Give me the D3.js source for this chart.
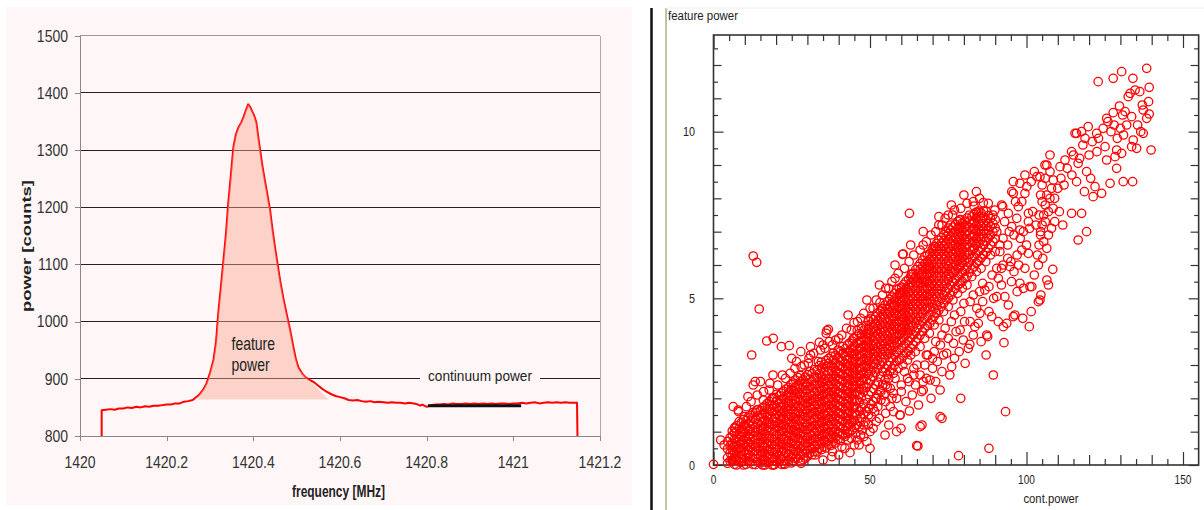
<!DOCTYPE html>
<html><head><meta charset="utf-8">
<script src="https://cdn.jsdelivr.net/npm/d3@7"></script>
<style>body{margin:0;background:#fff}svg{display:block}</style>
</head><body><svg id="c" width="1204" height="510"></svg>
<script>
// ---------- LEFT: spectrum ----------
const specFreq = [1420.05,1420.05,1420.06,1420.07,1420.08,1420.09,1420.10,1420.11,1420.12,1420.13,1420.14,1420.15,1420.16,1420.17,1420.18,1420.19,1420.20,1420.21,1420.22,1420.23,1420.24,1420.25,1420.26,1420.265,1420.275,1420.285,1420.292,1420.30,1420.308,1420.314,1420.319,1420.325,1420.331,1420.337,1420.342,1420.348,1420.354,1420.36,1420.366,1420.372,1420.377,1420.383,1420.388,1420.393,1420.397,1420.402,1420.407,1420.411,1420.416,1420.421,1420.427,1420.433,1420.439,1420.444,1420.45,1420.456,1420.462,1420.469,1420.477,1420.485,1420.492,1420.498,1420.504,1420.512,1420.52,1420.53,1420.54,1420.55,1420.56,1420.57,1420.58,1420.59,1420.60,1420.61,1420.62,1420.63,1420.64,1420.65,1420.66,1420.67,1420.68,1420.69,1420.70,1420.71,1420.72,1420.73,1420.74,1420.75,1420.76,1420.77,1420.78,1420.785,1420.79,1420.80,1420.81,1420.82,1420.83,1420.84,1420.85,1420.86,1420.87,1420.88,1420.89,1420.90,1420.91,1420.92,1420.93,1420.94,1420.95,1420.96,1420.97,1420.98,1420.99,1421.00,1421.01,1421.02,1421.03,1421.04,1421.05,1421.06,1421.07,1421.08,1421.09,1421.10,1421.11,1421.12,1421.13,1421.14,1421.147,1421.148];
const specPower = [800,845,846,847,846,848,848,850,849,851,850,852,851,853,853,854,855,855,857,857,860,861,863,866,872,882,892,910,933,965,1014,1060,1107,1155,1206,1255,1305,1328,1340,1348,1357,1370,1380,1375,1368,1360,1348,1325,1298,1272,1245,1220,1193,1162,1130,1100,1071,1042,1013,985,957,935,920,910,903,898,894,888,882,877,873,870,868,866,863,862,863,861,860,861,859,860,859,858,859,858,858,857,858,857,855,853,855,851,854,855,855,856,855,857,856,856,857,856,857,856,857,856,857,856,857,857,856,857,857,858,857,858,859,857,858,859,858,859,858,859,858,858,858,800];
const yTicksL = [800,900,1000,1100,1200,1300,1400,1500];
const xTicksL = [1420,1420.2,1420.4,1420.6,1420.8,1421,1421.2];
const xTickLabelsL = ["1420","1420.2","1420.4","1420.6","1420.8","1421","1421.2"];
const contBarFreq = [1420.803,1421.018];
const contBarPower = [853,853];
const fillRange = [1420.272,1420.515];
const fillEndFreq = 1420.573;
const fillBase = 864;

// ---------- RIGHT: scatter (cont.power, feature power) ----------
const coreCols = [
[4.5,[0.05,0.22,0.48,0.7]],
[6,[0.12,0.3,0.47,0.66,0.88,1.02]],
[7.4,[0.0,0.18,0.41,0.6,0.79,1.01,1.18]],
[8.9,[0.08,0.31,0.49,0.68,0.86,1.07,1.27]],
[10.4,[0.02,0.21,0.37,0.56,0.77,0.94,1.16,1.33]],
[11.8,[0.1,0.28,0.52,0.69,0.91,1.08,1.31,1.49]],
[13.4,[0.01,0.19,0.42,0.57,0.76,0.97,1.13,1.37,1.58]],
[15,[0.06,0.26,0.43,0.66,0.84,1.03,1.19,1.42,1.63]],
[16.4,[0.0,0.16,0.36,0.54,0.77,0.93,1.16,1.34,1.56,1.77]],
[17.9,[0.09,0.31,0.48,0.71,0.88,1.12,1.29,1.51,1.69,1.91]],
[19.5,[0.01,0.22,0.39,0.61,0.79,1.02,1.18,1.41,1.62,1.79,2.02]],
[21,[0.11,0.28,0.52,0.69,0.91,1.09,1.26,1.47,1.64,1.86,2.08]],
[22.4,[0.04,0.26,0.44,0.62,0.79,1.01,1.21,1.39,1.61,1.82,1.99,2.21]],
[24,[0.16,0.33,0.56,0.74,0.96,1.13,1.36,1.54,1.76,1.93,2.16,2.33]],
[25.5,[0.1,0.31,0.49,0.72,0.88,1.06,1.27,1.44,1.66,1.84,2.07,2.24,2.46]],
[27,[0.19,0.42,0.59,0.81,0.99,1.22,1.39,1.61,1.79,2.02,2.19,2.41,2.62]],
[28.6,[0.16,0.34,0.57,0.74,0.96,1.14,1.36,1.54,1.77,1.94,2.16,2.36,2.56]],
[30,[0.26,0.44,0.66,0.84,1.06,1.24,1.46,1.64,1.86,2.04,2.26,2.44,2.71]],
[31.5,[0.31,0.49,0.71,0.89,1.11,1.29,1.51,1.69,1.91,2.09,2.31,2.51,2.74]],
[33.1,[0.39,0.61,0.79,1.01,1.19,1.41,1.59,1.81,1.99,2.21,2.39,2.61,2.84]],
[34.5,[0.46,0.64,0.86,1.04,1.26,1.44,1.66,1.84,2.06,2.24,2.46,2.64,2.91,3.09]],
[36,[0.51,0.69,0.91,1.09,1.31,1.49,1.71,1.89,2.11,2.29,2.51,2.69,2.96,3.14]],
[37.6,[0.59,0.81,0.99,1.21,1.39,1.61,1.79,2.01,2.19,2.41,2.59,2.81,2.99,3.26]],
[39,[0.66,0.84,1.06,1.24,1.46,1.64,1.86,2.04,2.26,2.44,2.66,2.84,3.06,3.29]],
[40.5,[0.74,0.96,1.14,1.36,1.54,1.76,1.94,2.16,2.34,2.56,2.74,2.96,3.14,3.41]],
[42.1,[0.86,1.04,1.26,1.44,1.66,1.84,2.06,2.24,2.46,2.64,2.86,3.04,3.26,3.49]],
[43.5,[0.99,1.21,1.39,1.61,1.79,2.01,2.19,2.41,2.59,2.81,2.99,3.21,3.39,3.66]],
[45,[1.12,1.34,1.56,1.74,1.96,2.14,2.36,2.54,2.76,2.94,3.16,3.34,3.56,3.79]],
[46.6,[1.31,1.61,1.89,2.11,2.29,2.51,2.69,2.91,3.09,3.31,3.49,3.71,3.94]],
[48,[1.52,1.84,2.21,2.39,2.61,2.79,3.01,3.19,3.41,3.59,3.81,4.04]],
[49.5,[1.69,2.11,2.44,2.71,2.89,3.11,3.29,3.51,3.69,3.91,4.09,4.31]],
[51.1,[1.91,2.29,2.66,2.94,3.16,3.34,3.56,3.74,3.96,4.14,4.36]],
[52.5,[2.11,2.49,2.91,3.14,3.36,3.54,3.76,3.94,4.16,4.34,4.56]],
[54,[2.39,2.81,3.09,3.31,3.49,3.71,3.89,4.11,4.29,4.51,4.69]],
[55.6,[2.71,2.99,3.31,3.49,3.71,3.89,4.11,4.29,4.51,4.69,4.91]],
[57,[2.89,3.21,3.44,3.66,3.84,4.06,4.24,4.46,4.64,4.86,5.04]],
[58.5,[3.11,3.39,3.66,3.84,4.06,4.24,4.46,4.64,4.86,5.04,5.26]],
[60.1,[3.19,3.51,3.74,3.96,4.14,4.36,4.54,4.76,4.94,5.16,5.34]],
[61.5,[3.36,3.64,3.91,4.09,4.31,4.49,4.71,4.89,5.11,5.29,5.51]],
[63,[3.49,3.81,4.04,4.26,4.44,4.66,4.84,5.06,5.24,5.46,5.64]],
[64.6,[3.71,3.99,4.26,4.44,4.66,4.84,5.06,5.24,5.46,5.64,5.86]],
[66,[3.89,4.21,4.44,4.66,4.84,5.06,5.24,5.46,5.64,5.86,6.04]],
[67.5,[4.11,4.39,4.66,4.84,5.06,5.24,5.46,5.64,5.86,6.04,6.26]],
[69.1,[4.24,4.51,4.74,4.96,5.14,5.36,5.54,5.76,5.94,6.16,6.34]],
[70.5,[4.46,4.69,4.96,5.14,5.36,5.54,5.76,5.94,6.16,6.34,6.56]],
[72,[4.64,4.91,5.14,5.36,5.54,5.76,5.94,6.16,6.34,6.56,6.74]],
[73.6,[4.86,5.09,5.36,5.54,5.76,5.94,6.16,6.34,6.56,6.74,6.91]],
[75,[5.01,5.29,5.56,5.74,5.96,6.14,6.36,6.54,6.76,6.94,7.11]],
[76.5,[5.21,5.49,5.76,5.94,6.16,6.34,6.56,6.74,6.96,7.14]],
[78.1,[5.39,5.66,5.89,6.11,6.29,6.51,6.69,6.91,7.09,7.31]],
[79.5,[5.51,5.79,6.06,6.24,6.46,6.64,6.86,7.04,7.26]],
[81,[5.66,5.94,6.21,6.39,6.61,6.79,7.01,7.19,7.41]],
[82.6,[5.89,6.21,6.44,6.66,6.84,7.06,7.24,7.46]],
[84,[6.06,6.34,6.61,6.79,7.01,7.19,7.41,7.59]],
[85.5,[6.21,6.49,6.76,6.94,7.16,7.34,7.56]],
[87.1,[6.39,6.71,6.94,7.16,7.34,7.61]],
[88.5,[6.61,6.89,7.16,7.39]],
[90,[6.79,7.11,7.36]]
];
const coreCols2 = [
[5.3,[0.12,0.36,0.58,0.82]],
[6.7,[0.02,0.21,0.38,0.57,0.77,0.96,1.12]],
[8.2,[0.11,0.29,0.5,0.7,0.9,1.1,1.3]],
[9.6,[0.0,0.19,0.4,0.59,0.76,0.97,1.17,1.36]],
[11.1,[0.12,0.31,0.46,0.66,0.86,1.04,1.24,1.44]],
[12.6,[0.02,0.2,0.4,0.61,0.8,1.0,1.2,1.4,1.57]],
[14.2,[0.1,0.31,0.5,0.67,0.87,1.07,1.26,1.48,1.66]],
[15.7,[0.0,0.17,0.36,0.55,0.76,0.94,1.12,1.32,1.52,1.72]],
[17.1,[0.07,0.26,0.45,0.64,0.85,1.04,1.25,1.44,1.66,1.84]],
[18.7,[0.0,0.19,0.4,0.6,0.8,1.0,1.21,1.4,1.6,1.8,2.0]],
[20.2,[0.1,0.31,0.5,0.7,0.9,1.1,1.3,1.52,1.72,1.92,2.12]],
[21.7,[0.02,0.19,0.4,0.61,0.8,1.0,1.18,1.37,1.56,1.75,1.96,2.16]],
[23.2,[0.13,0.35,0.53,0.71,0.88,1.1,1.3,1.48,1.68,1.87,2.08,2.28]],
[24.8,[0.06,0.24,0.45,0.65,0.85,1.05,1.25,1.45,1.65,1.85,2.05,2.26,2.42]],
[26.2,[0.2,0.4,0.6,0.8,0.98,1.16,1.36,1.55,1.75,1.95,2.15,2.34,2.55]],
[27.8,[0.1,0.3,0.5,0.7,0.9,1.1,1.3,1.5,1.7,1.9,2.1,2.3,2.5,2.68]],
[29.3,[0.2,0.44,0.66,0.86,1.05,1.25,1.45,1.65,1.85,2.05,2.25,2.45,2.64]],
[30.8,[0.35,0.55,0.75,0.95,1.15,1.35,1.55,1.75,1.95,2.15,2.35,2.58,2.8]],
[32.3,[0.4,0.6,0.8,1.0,1.2,1.4,1.6,1.8,2.0,2.2,2.42,2.64,2.86]],
[33.8,[0.5,0.7,0.9,1.1,1.3,1.5,1.7,1.9,2.1,2.3,2.52,2.74,2.98]],
[35.3,[0.55,0.75,0.95,1.15,1.35,1.55,1.75,1.95,2.15,2.35,2.57,2.8,3.02]],
[36.8,[0.62,0.82,1.0,1.2,1.4,1.6,1.8,2.0,2.2,2.4,2.6,2.82,3.05,3.2]],
[38.3,[0.7,0.9,1.1,1.3,1.5,1.7,1.9,2.1,2.3,2.5,2.7,2.92,3.15,3.36]],
[39.8,[0.78,0.98,1.18,1.38,1.58,1.78,1.98,2.18,2.38,2.58,2.78,3.0,3.22,3.45]],
[41.3,[0.9,1.1,1.3,1.5,1.7,1.9,2.1,2.3,2.5,2.7,2.9,3.12,3.35,3.55]],
[42.8,[0.95,1.15,1.35,1.55,1.75,1.95,2.15,2.35,2.55,2.75,2.95,3.15,3.38,3.6]],
[44.3,[1.05,1.28,1.5,1.7,1.9,2.1,2.3,2.5,2.7,2.9,3.1,3.3,3.5,3.72]],
[45.8,[1.2,1.48,1.72,1.95,2.2,2.42,2.62,2.84,3.04,3.24,3.44,3.64,3.86]],
[47.3,[1.42,1.72,2.02,2.3,2.52,2.72,2.92,3.12,3.32,3.52,3.72,3.92,4.1]],
[48.8,[1.6,1.98,2.32,2.55,2.75,2.95,3.15,3.35,3.55,3.75,3.95,4.18]],
[50.3,[1.82,2.2,2.55,2.82,3.02,3.22,3.42,3.62,3.82,4.02,4.22,4.4]],
[51.8,[2.0,2.4,2.78,3.05,3.25,3.45,3.65,3.85,4.05,4.25,4.45]],
[53.3,[2.25,2.65,3.0,3.22,3.42,3.62,3.82,4.02,4.22,4.42,4.62]],
[54.8,[2.55,2.9,3.2,3.4,3.6,3.8,4.0,4.2,4.4,4.6,4.8]],
[56.3,[2.8,3.1,3.35,3.57,3.77,3.97,4.17,4.37,4.57,4.77,4.97]],
[57.8,[3.0,3.3,3.55,3.75,3.95,4.15,4.35,4.55,4.75,4.95,5.15]],
[59.3,[3.15,3.45,3.7,3.9,4.1,4.3,4.5,4.7,4.9,5.1,5.3]],
[60.8,[3.28,3.58,3.82,4.02,4.22,4.42,4.62,4.82,5.02,5.22,5.42]],
[62.3,[3.42,3.72,3.97,4.17,4.37,4.57,4.77,4.97,5.17,5.37,5.57]],
[63.8,[3.6,3.9,4.15,4.35,4.55,4.75,4.95,5.15,5.35,5.55,5.75]],
[65.3,[3.8,4.1,4.35,4.55,4.75,4.95,5.15,5.35,5.55,5.75,5.95]],
[66.8,[4.0,4.3,4.55,4.75,4.95,5.15,5.35,5.55,5.75,5.95,6.15]],
[68.3,[4.18,4.45,4.7,4.9,5.1,5.3,5.5,5.7,5.9,6.1,6.3]],
[69.8,[4.35,4.6,4.85,5.05,5.25,5.45,5.65,5.85,6.05,6.25,6.45]],
[71.3,[4.55,4.8,5.05,5.25,5.45,5.65,5.85,6.05,6.25,6.45,6.65]],
[72.8,[4.75,5.0,5.25,5.45,5.65,5.85,6.05,6.25,6.45,6.65,6.82]],
[74.3,[4.95,5.2,5.45,5.65,5.85,6.05,6.25,6.45,6.65,6.85,7.02]],
[75.8,[5.1,5.38,5.65,5.85,6.05,6.25,6.45,6.65,6.85,7.05,7.2]],
[77.3,[5.3,5.57,5.82,6.02,6.22,6.42,6.62,6.82,7.02,7.22]],
[78.8,[5.45,5.72,5.97,6.17,6.37,6.57,6.77,6.97,7.17,7.36]],
[80.3,[5.6,5.85,6.12,6.32,6.52,6.72,6.92,7.12,7.32]],
[81.8,[5.78,6.08,6.32,6.52,6.72,6.92,7.12,7.32,7.5]],
[83.3,[5.95,6.25,6.5,6.7,6.9,7.1,7.3,7.52]],
[84.8,[6.12,6.42,6.66,6.86,7.06,7.26,7.46,7.62]],
[86.3,[6.3,6.6,6.84,7.04,7.24,7.44,7.62]],
[87.8,[6.5,6.8,7.04,7.26,7.48]],
[89.3,[6.7,7.0,7.25,7.5]]
];
const lowerBranch = [[55,1.9],[56.5,2.3],[57.5,1.6],[58.5,2.0],[59.6,1.5],[60,2.4],[61,2.8],[61.5,1.9],[62.6,1.62],[62.5,2.5],[63.5,2.1],[64,2.9],[64.5,2.4],[65.5,1.8],[66,2.7],[66.5,2.2],[67,2.25],[67.5,3.0],[68,2.6],[68.5,3.3],[69.2,2.55],[69.5,2.0],[70,2.9],[70.5,3.4],[71,2.5],[71.5,3.1],[72.4,2.25],[72.5,3.6],[73,2.8],[73.5,3.3],[74.5,3.35],[75,3.8],[75.5,2.7],[76.1,2.95],[76.7,3.65],[77,3.2],[77.5,4.0],[78.5,3.4],[78.8,4.05],[79.8,3.75],[80.2,4.3],[80.4,3.05],[81.4,3.5],[81.9,3.62],[82,4.3],[83,3.9],[83.5,4.15],[84.1,4.7],[84.6,4.25],[85.1,4.55],[85.5,3.7],[86,4.9],[86.7,5.25],[87.1,3.3],[87.3,3.9],[87.6,3.85],[88,4.6],[88.9,4.45],[89.4,2.7],[89.5,5.0],[90.5,5.05],[91,4.3],[92,5.4],[92.6,4.15],[92.8,3.67],[93.1,5.05],[93.7,4.25],[94.2,4.8],[94.7,5.95],[95.2,5.5],[95.8,4.45],[96.3,4.5],[97,5.2],[97.9,5.45],[98.5,6.45],[98.8,4.4],[99,5.3],[99.5,5.9],[100.6,6.35],[100.9,4.15],[101.1,5.35],[101.7,5.35],[101.5,4.6],[102.5,5.7],[103.8,4.9],[104.3,4.95],[104.6,5.1],[106.5,5.55],[107,5.4],[108.4,5.87]];
const lowHalo = [[40,0.3],[43.6,0.37],[37.8,0.25],[32.4,0.3],[19.1,0.0],[22.8,0.02],[28,0.05],[35,0.15],[45,0.6],[47,0.9],[50,1.0],[52,1.3],[54.8,0.9],[58.5,1.0],[59.9,1.1],[59.6,1.5],[64.9,0.58],[66,1.15],[66.6,1.2],[65.3,0.57],[72.4,1.45],[73,1.4],[78.3,0.28],[79,2.0],[88,0.5],[93.3,1.6],[49,0.7],[42,0.5],[6.3,0.55],[6,0.15],[2.3,0.75],[3.4,0.6],[0,0.02],
[45.5,0.95],[46.5,1.15],[47.5,1.05],[48.5,1.3],[49.5,1.2],[50.5,1.45],[51.5,1.6],[52.5,1.75],[53.5,1.95],[54.5,2.1],[55.5,2.35],[56.5,1.75],[57.5,2.15],[48,0.85],[51,1.1],[53,1.4],[55,1.55],[44,0.8],[46,0.75],[50,0.5],[56,1.2],[58,2.6]];
const bandTopHalo = [[8,1.6],[10.5,1.75],[12,1.9],[14,2.1],[16,2.2],[18,2.45],[20.5,2.4],[22,2.7],[24.5,2.75],[26.5,3.1],[28,2.95],[30.5,3.2],[32,3.35],[33.5,3.1],[35,3.6],[37,3.7],[39,3.75],[41,3.9],[42.5,4.1],[44,4.05],[46,4.3],[48,4.55],[50,4.7],[52,4.95],[54,5.1],[56,5.3],[57,5.5],[59,5.75],[61,5.9],[62.5,6.1],[64,6.3],[66,6.45],[68,6.7],[69.5,6.9],[71,7.0],[73,7.2],[75,7.5],[77,7.65],[79,7.7],[81,7.85],[83,7.9],[85,8.0],[11,2.05],[15,2.5],[19,2.7],[25,3.2],[31,3.55],[36,3.95],[43,4.5],[49,4.95],[53,5.4],[58,6.0],[63,6.6],[67,7.0],[72,7.45],[76,7.8],[80,8.1],[84,8.2]];
const bandLowHalo = [[38,0.4],[41,0.55],[43,0.75],[46.5,0.6],[48,1.2],[49.5,1.5],[51,1.7],[52,2.0],[53.5,2.2],[55,2.4],[56,2.6],[57.5,2.75],[59,2.9],[60.5,3.0],[62,3.15],[63,3.3],[64.5,3.4],[66,3.55],[67.5,3.8],[69,3.95],[70.5,4.2],[72,4.35],[73.5,4.6],[75,4.75],[76.5,4.95],[78,5.15],[79.5,5.3],[81,5.4],[82.5,5.65],[84,5.8],[85.5,5.9],[87,6.1],[88.5,6.3],[90,6.4],[91.5,6.6],[62,2.6],[65,3.0],[68,3.3],[71,3.7],[74,4.1],[77,4.5],[80,4.85],[83,5.1],[86,5.45],[89,5.7],[92,5.9],[57,2.0],[60,2.2],[64,2.7],[67,2.5],[70,3.2],[73,3.9],[76,4.3],[79,4.6],[82,4.9],[85,5.2],[88,5.35],[91,5.6],[94,6.2],[96,5.8],[97.5,6.0]];
const highHalo = [[6.3,1.75],[7.9,1.65],[9.8,1.45],[6.9,1.1],[9,1.0],[12.2,3.3],[12.7,2.4],[13.3,2.5],[13.8,1.65],[14.6,4.68],[12.7,6.27],[13.8,6.08],[17,3.72],[19.1,3.8],[21.7,3.55],[24.2,3.58],[17.8,2.25],[15.9,1.95],[19.1,2.0],[19.6,1.4],[27.9,3.4],[30.3,3.05],[31,3.3],[33.8,3.68],[34.2,3.45],[35.6,3.5],[36.2,4.03],[36.7,4.07],[41.5,3.35],[44.7,3.8],[44.9,4.27],[45.9,4.03],[49.5,4.35],[53.2,4.87],[53.7,4.7],[57.8,4.8],[59.6,5.17],[60.4,6.32],[60.6,6.33],[62.6,7.55],[63.2,5.72],[63.3,5.73],[65.4,5.45],[66.5,5.7],[68.6,5.97],[70.2,6.5],[70.9,6.55],[26,2.9],[23,2.6],[29,3.0],[38,3.6],[40,3.8],[47,4.4],[51,4.7],[55,5.3],[58,5.6],[67,6.6],[72,7.2],[74,7.4],[76.4,7.5],[78.8,7.35],[83.2,7.77],[86.2,7.87],[87.8,7.85],[89.9,7.65],[92.4,7.75],[94.2,7.55]];
const ridgeCluster = [[103.5,6.3],[104,6.6],[104.5,6.9],[105,7.2],[105.5,7.5],[106,7.8],[106.5,8.1],[105,8.4],[104.5,7.0],[105.5,6.7],[106,7.3],[107,7.6],[107.5,8.0],[108,8.3],[106.5,6.5],[107,6.9],[108,7.1],[108.5,7.7],[109,8.0],[110,8.3],[105,7.9],[104,7.5],[106,8.6],[109,7.3],[110.5,7.6],[103,7.2],[104.5,8.1],[107.5,8.8],[103.8,6.0],[105.2,6.2],[90.5,7.0],[91.5,6.4],[92.5,6.8],[93,7.3],[94,6.6],[95,6.1],[96,6.9],[97,6.3],[98,6.8],[99,7.0],[100,6.6],[101,7.1],[102,7.6],[98.5,7.9],[96.5,7.9],[94.5,7.0],[92.5,6.0],[90.5,5.9],[101.5,8.5],[102.5,8.8],[99.5,8.7]];
const upperTail = [[95.3,7.15],[96.9,7.4],[97.9,7.05],[100.6,7.3],[95.8,8.15],[99.5,8.15],[97.9,8.45],[100.1,8.35],[95.8,8.5],[95.3,8.2],[92.1,7.8],[97.4,7.75],[100.6,7.55],[103.3,8.65],[106.5,9.0],[108.6,8.55],[110.7,8.95],[111.6,7.2],[114.4,7.55],[116.5,6.75],[119.2,7.0],[117.6,7.55],[105.9,9.0],[107.5,9.3],[104.3,8.65],[112.3,9.15],[114.4,9.4],[116.5,9.05],[119.2,8.8],[115.5,9.95],[117.6,10.0],[116,9.95],[118.7,9.8],[119.7,10.15],[121.3,8.05],[121.9,8.35],[124,8.15],[122.4,9.95],[124.5,10.1],[125.6,10.4],[126.7,8.45],[125.1,9.55],[125.6,9.15],[128.8,9.45],[130.4,9.35],[128.3,9.25],[128.8,8.9],[130.9,8.5],[133.9,8.5],[137.3,9.95],[134.1,9.75],[133.6,9.55],[135.2,9.5],[139.8,9.45],[127.7,10.57],[129.7,10.77],[130.7,10.5],[133.6,10.45],[137.3,10.65],[138.4,10.4],[139.2,10.53],[132.5,11.05],[133.1,11.15],[134.7,11.25],[136.2,11.2],[139.2,11.33],[122.9,11.5],[127.7,11.6],[130.4,11.8],[138.4,11.9],[111,8.6],[113,8.9],[112,8.4],[114.5,8.7],[115,9.3],[117,9.2],[118,9.6],[120,9.3],[121,9.7],[122.5,9.4],[123,9.8],[120.5,8.6],[118.5,8.2],[116,8.5],[126,10.3],[127,10.0],[128,10.2],[129,9.8],[130,10.1],[131,9.9],[132,10.2],[131.5,10.6],[135.5,10.2],[136.5,10.0],[134,11.6],[137,10.8],[139,10.9]];
const xTicksS = [0,50,100,150];
const yTicksS = [0,5,10];

// ---------- drawing ----------
const svg = d3.select("#c");
const FONT = "'Liberation Sans', Arial, sans-serif";
svg.append("rect").attr("width",1204).attr("height",510).attr("fill","#fff");
svg.append("rect").attr("x",6).attr("y",7).attr("width",626).attr("height",498).attr("fill","#FFF7F7");

const xL = d3.scaleLinear().domain([1420,1421.2]).range([80,600]);
const yL = d3.scaleLinear().domain([800,1500]).range([436,35.7]);

svg.append("g").selectAll("line").data(yTicksL.filter(v=>v>800&&v<1500)).join("line")
  .attr("x1",xL(1420)).attr("x2",xL(1421.2)).attr("y1",d=>yL(d)).attr("y2",d=>yL(d))
  .attr("stroke","#222").attr("stroke-width",1).attr("shape-rendering","crispEdges");
svg.append("line").attr("x1",xL(1420)).attr("x2",xL(1421.2)).attr("y1",yL(1500)).attr("y2",yL(1500)).attr("stroke","#999").attr("shape-rendering","crispEdges");
svg.append("line").attr("x1",xL(1421.2)).attr("x2",xL(1421.2)).attr("y1",yL(1500)).attr("y2",yL(800)).attr("stroke","#aaa").attr("shape-rendering","crispEdges");

const axL = svg.append("g").attr("transform",`translate(${xL(1420)},0)`).call(d3.axisLeft(yL).tickValues(yTicksL).tickSize(5).tickFormat(""));
const axB = svg.append("g").attr("transform",`translate(0,${yL(800)})`).call(d3.axisBottom(xL).tickValues(xTicksL).tickSize(5).tickFormat(""));
[axL,axB].forEach(a=>{a.selectAll("path,line").attr("stroke","#888").attr("shape-rendering","crispEdges");});

yTicksL.forEach(v=>{
  svg.append("g").attr("transform",`translate(68,${yL(v)}) scale(1,1.15)`)
    .append("text").attr("text-anchor","end").attr("dy","0.36em")
    .attr("font-family",FONT).attr("font-size",14).attr("fill","#333").text(v);
});
xTicksL.forEach((v,i)=>{
  svg.append("g").attr("transform",`translate(${xL(v)},467.5) scale(1,1.15)`)
    .append("text").attr("text-anchor","middle")
    .attr("font-family",FONT).attr("font-size",14).attr("fill","#333").text(xTickLabelsL[i]);
});

svg.append("text").attr("transform","translate(31,246) rotate(-90)").attr("text-anchor","middle")
  .attr("font-family",FONT).attr("font-weight","bold").attr("font-size",13).attr("fill","#222")
  .attr("textLength",132).attr("lengthAdjust","spacingAndGlyphs").text("power [counts]");
svg.append("g").attr("transform","translate(338.5,496.5) scale(1,1.3)")
  .append("text").attr("text-anchor","middle")
  .attr("font-family",FONT).attr("font-weight","bold").attr("font-size",12).attr("fill","#222")
  .attr("textLength",93).attr("lengthAdjust","spacingAndGlyphs").text("frequency [MHz]");

const spec = specFreq.map((f,i)=>[f,specPower[i]]);
svg.append("path").datum(spec)
  .attr("d",d3.line().x(d=>xL(d[0])).y(d=>yL(d[1])))
  .attr("fill","none").attr("stroke","#ff0000").attr("stroke-width",2).attr("stroke-linejoin","round");

const fillPts = [[fillRange[0],fillBase]].concat(spec.filter(d=>d[0]>fillRange[0]&&d[0]<=fillRange[1]&&d[1]>fillBase)).concat([[fillEndFreq,fillBase]]);
svg.append("path").datum(fillPts)
  .attr("d",d3.area().x(d=>xL(d[0])).y0(yL(fillBase)).y1(d=>yL(d[1])))
  .attr("fill","rgb(248,165,145)").attr("fill-opacity",0.45);

svg.append("path").datum(contBarFreq.map((f,i)=>[f,contBarPower[i]]))
  .attr("d",d3.line().x(d=>xL(d[0])).y(d=>yL(d[1])))
  .attr("stroke","#111").attr("stroke-width",3).attr("fill","none");

[["feature",349.5],["power",371]].forEach(([t,yy])=>{
  svg.append("g").attr("transform",`translate(231.5,${yy}) scale(1,1.25)`)
    .append("text").attr("font-family",FONT).attr("font-size",14).attr("fill","#222").text(t);
});
svg.append("rect").attr("x",420).attr("y",370).attr("width",120).attr("height",16).attr("fill","#FFF7F7");
svg.append("g").attr("transform","translate(480,380.5) scale(1,1.08)")
  .append("text").attr("text-anchor","middle").attr("font-family",FONT).attr("font-size",14).attr("fill","#222")
  .attr("textLength",104).attr("lengthAdjust","spacingAndGlyphs").text("continuum power");

// ---------- right panel ----------
svg.append("line").attr("x1",651.5).attr("x2",651.5).attr("y1",8).attr("y2",510).attr("stroke","#111").attr("stroke-width",2.5);
svg.append("line").attr("x1",666).attr("x2",666).attr("y1",8).attr("y2",510).attr("stroke","#A9B88E").attr("stroke-width",1.6);
svg.append("line").attr("x1",666).attr("x2",1204).attr("y1",8).attr("y2",8).attr("stroke","#eeeeee").attr("stroke-width",1);
svg.append("text").attr("x",668).attr("y",19.5).attr("font-family",FONT).attr("font-size",12).attr("fill","#222")
  .attr("textLength",70).attr("lengthAdjust","spacingAndGlyphs").text("feature power");

const xS = d3.scaleLinear().domain([0,155]).range([713.5,713.5+155*3.13]);
const yS = d3.scaleLinear().domain([0,12.9]).range([465,35]);

const xMinor = d3.range(5,155,10), xMid = d3.range(10,155,10).filter(v=>v%50!==0), xMaj = [0,50,100,150];
const yHalf = d3.range(0.5,12.9,1), yInt = d3.range(1,12.9,1).filter(v=>v%5!==0), yMaj = [0,5,10];
function tickSet(vals,len,axisType,pos){
  const ax = axisType(axisType===d3.axisBottom||axisType===d3.axisTop?xS:yS).tickValues(vals).tickSize(-len).tickFormat("");
  const g = svg.append("g").attr("transform",pos).call(ax);
  g.select(".domain").remove();
  g.selectAll("line").attr("stroke","#333").attr("stroke-width",1.2);
}
[[xMinor,6],[xMid,10],[xMaj,13]].forEach(([v,l])=>{
  tickSet(v,l,d3.axisBottom,`translate(0,${yS(0)})`);
  tickSet(v,l,d3.axisTop,`translate(0,${yS(12.9)})`);
});
[[yHalf,4.5],[yInt,8],[yMaj,10]].forEach(([v,l])=>{
  tickSet(v,l,d3.axisLeft,`translate(${xS(0)},0)`);
  tickSet(v,l,d3.axisRight,`translate(${xS(155)},0)`);
});
svg.append("rect").attr("x",xS(0)).attr("y",yS(12.9)).attr("width",xS(155)-xS(0)).attr("height",yS(0)-yS(12.9))
  .attr("fill","none").attr("stroke","#333").attr("stroke-width",1.6);

const pts = [];
[coreCols,coreCols2].forEach(cols=>cols.forEach(([x,ys])=>ys.forEach(y=>pts.push([x,y]))));
[lowerBranch,lowHalo,bandTopHalo,bandLowHalo,highHalo,ridgeCluster,upperTail].forEach(a=>a.forEach(p=>pts.push(p)));
svg.append("g").selectAll("circle").data(pts).join("circle")
  .attr("cx",d=>xS(d[0])).attr("cy",d=>yS(d[1])).attr("r",4.2)
  .attr("fill","none").attr("stroke","#ff0000").attr("stroke-width",1.3);

xTicksS.forEach(v=>{
  const s = String(v);
  svg.append("text").attr("x",xS(v)).attr("y",484).attr("text-anchor","middle")
    .attr("font-family",FONT).attr("font-size",13).attr("fill","#222")
    .attr("textLength",s.length*5.6).attr("lengthAdjust","spacingAndGlyphs").text(s);
});
yTicksS.forEach(v=>{
  const s = String(v);
  svg.append("text").attr("x",695).attr("y",yS(v)+4.5).attr("text-anchor","end")
    .attr("font-family",FONT).attr("font-size",13).attr("fill","#222")
    .attr("textLength",s.length*6).attr("lengthAdjust","spacingAndGlyphs").text(s);
});
svg.append("text").attr("x",1051).attr("y",503).attr("text-anchor","middle")
  .attr("font-family",FONT).attr("font-size",13).attr("fill","#222")
  .attr("textLength",55).attr("lengthAdjust","spacingAndGlyphs").text("cont.power");
</script></body></html>
